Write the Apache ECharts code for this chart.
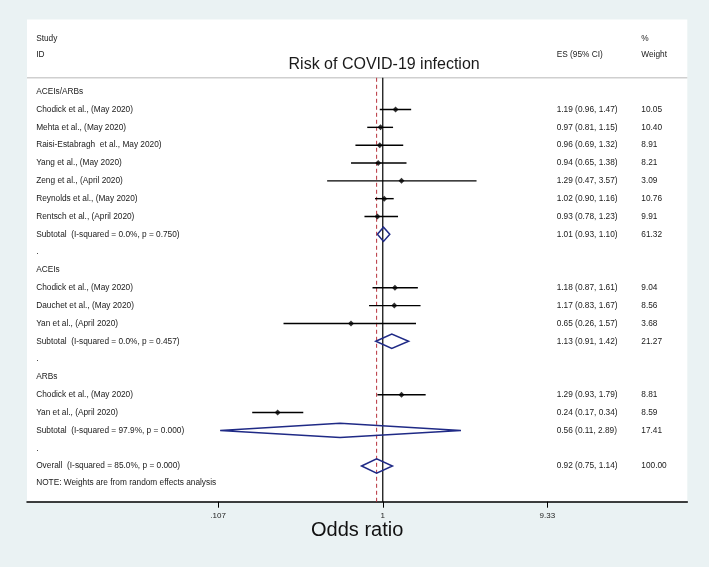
<!DOCTYPE html>
<html>
<head>
<meta charset="utf-8">
<script src="https://cdn.jsdelivr.net/npm/echarts@6/dist/echarts.min.js"></script>
<style>
html,body{margin:0;padding:0;background:#eaf2f3;}
#chart{width:709px;height:567px;}
</style>
</head>
<body>
<div id="chart"></div>
<script>
// ---------------- data ----------------
const rowLabels = [
  'ACEIs/ARBs',
  'Chodick et al., (May 2020)',
  'Mehta et al., (May 2020)',
  'Raisi-Estabragh  et al., May 2020)',
  'Yang et al., (May 2020)',
  'Zeng et al., (April 2020)',
  'Reynolds et al., (May 2020)',
  'Rentsch et al., (April 2020)',
  'Subtotal  (I-squared = 0.0%, p = 0.750)',
  '.',
  'ACEIs',
  'Chodick et al., (May 2020)',
  'Dauchet et al., (May 2020)',
  'Yan et al., (April 2020)',
  'Subtotal  (I-squared = 0.0%, p = 0.457)',
  '.',
  'ARBs',
  'Chodick et al., (May 2020)',
  'Yan et al., (April 2020)',
  'Subtotal  (I-squared = 97.9%, p = 0.000)',
  '.',
  'Overall  (I-squared = 85.0%, p = 0.000)'
];
const rowKinds = [
  'group','study','study','study','study','study','study','study','pooled','blank',
  'group','study','study','study','pooled','blank',
  'group','study','study','pooled','blank',
  'overall'
];
const esValues = [null,1.19,0.97,0.96,0.94,1.29,1.02,0.93,1.01,null,
  null,1.18,1.17,0.65,1.13,null,
  null,1.29,0.24,0.56,null,
  0.92];
const ciLower = [null,0.96,0.81,0.69,0.65,0.47,0.90,0.78,0.93,null,
  null,0.87,0.83,0.26,0.91,null,
  null,0.93,0.17,0.11,null,
  0.75];
const ciUpper = [null,1.47,1.15,1.32,1.38,3.57,1.16,1.23,1.10,null,
  null,1.61,1.67,1.57,1.42,null,
  null,1.79,0.34,2.89,null,
  1.14];
const weights = [null,10.05,10.40,8.91,8.21,3.09,10.76,9.91,61.32,null,
  null,9.04,8.56,3.68,21.27,null,
  null,8.81,8.59,17.41,null,
  100.00];
const tickValues = [0.107, 1, 9.33];
const tickLabels = ['.107', '1', '9.33'];
const headerStudy = ['Study', 'ID'];
const headerES = 'ES (95% CI)';
const headerWeight = ['%', 'Weight'];
const titleText = 'Risk of COVID-19 infection';
const axisTitle = 'Odds ratio';
const noteText = 'NOTE: Weights are from random effects analysis';

// ---------------- layout ----------------
const lg = v => Math.log10(v);
const X_MIN = -2.097, X_MAX = 1.795;       // log10 odds-ratio extent of the panel
const Y_MIN = -4.05, Y_MAX = 23.0;         // row extent
const COL_LABEL = -2.043, COL_ES = 1.025, COL_W = 1.524, COL_TITLE = 0.008;
const ROW_H1 = -3.0, ROW_H2 = -2.05, ROW_TITLE = -1.5, ROW_SEP = -0.78, ROW_NOTE = 21.94;
const FONT = "'Liberation Sans', Arial, Helvetica, sans-serif";
const SMALL = 8.3;
const TXT = '#1a1a1a';
const NAVY = '#1f2a86';

const fmt = v => v.toFixed(2);

// text items
const texts = [];
texts.push({x: COL_LABEL, y: ROW_H1, t: headerStudy[0]});
texts.push({x: COL_LABEL, y: ROW_H2, t: headerStudy[1]});
texts.push({x: COL_ES, y: ROW_H2, t: headerES});
texts.push({x: COL_W, y: ROW_H1, t: headerWeight[0]});
texts.push({x: COL_W, y: ROW_H2, t: headerWeight[1]});
texts.push({x: COL_TITLE, y: ROW_TITLE, t: titleText, size: 16, align: 'center'});
rowLabels.forEach((lab, i) => {
  texts.push({x: COL_LABEL, y: i, t: lab});
  if (esValues[i] != null) {
    texts.push({x: COL_ES, y: i, t: fmt(esValues[i]) + ' (' + fmt(ciLower[i]) + ', ' + fmt(ciUpper[i]) + ')'});
    texts.push({x: COL_W, y: i, t: fmt(weights[i])});
  }
});
texts.push({x: COL_LABEL, y: ROW_NOTE, t: noteText});

const studyRows = [], pooledRows = [];
rowKinds.forEach((k, i) => {
  if (k === 'study') studyRows.push([lg(ciLower[i]), i, lg(ciUpper[i]), lg(esValues[i])]);
  if (k === 'pooled' || k === 'overall') pooledRows.push([lg(ciLower[i]), i, lg(ciUpper[i]), lg(esValues[i])]);
});
const overallIdx = rowKinds.indexOf('overall');
const overallLog = lg(esValues[overallIdx]);

const chart = echarts.init(document.getElementById('chart'), null, {renderer: 'canvas'});
chart.setOption({
  backgroundColor: '#eaf2f3',
  animation: false,
  textStyle: {fontFamily: FONT},
  grid: {left: 27, right: 21.7, top: 19.5, bottom: 65.3, show: true, backgroundColor: '#ffffff', borderWidth: 0, outerBoundsMode: 'none'},
  xAxis: {
    type: 'value', min: X_MIN, max: X_MAX, position: 'bottom',
    axisLine: {show: true, onZero: false, lineStyle: {color: '#000', width: 1.5}},
    axisTick: {show: true, length: 6, customValues: tickValues.map(lg), lineStyle: {color: '#000', width: 1}},
    axisLabel: {
      customValues: tickValues.map(lg), fontSize: 8, color: '#222', margin: 10, fontFamily: FONT,
      formatter: v => { const i = tickValues.findIndex(t => Math.abs(lg(t) - v) < 1e-6); return i >= 0 ? tickLabels[i] : ''; }
    },
    splitLine: {show: false},
    name: axisTitle, nameLocation: 'middle', nameGap: 19, nameMoveOverlap: false,
    nameTextStyle: {fontSize: 20, color: '#111', fontFamily: FONT}
  },
  yAxis: {type: 'value', inverse: true, min: Y_MIN, max: Y_MAX, show: false},
  series: [
    { // separator under header
      type: 'line', data: [[X_MIN, ROW_SEP], [X_MAX, ROW_SEP]], showSymbol: false, symbol: 'none', silent: true,
      lineStyle: {color: '#cfcfcf', width: 1.5}, z: 1
    },
    { // null line at OR = 1
      type: 'line', data: [[lg(1), ROW_SEP], [lg(1), Y_MAX]], symbol: 'none', silent: true,
      lineStyle: {color: '#000', width: 1.2}, z: 2
    },
    { // overall estimate line
      type: 'line', data: [[overallLog, ROW_SEP], [overallLog, Y_MAX]], symbol: 'none', silent: true,
      lineStyle: {color: '#b8323c', width: 1, type: [4, 3]}, z: 3
    },
    { // confidence intervals
      type: 'custom', data: studyRows, encode: {x: [0, 2], y: 1}, silent: true, z: 4,
      renderItem: (params, api) => {
        const a = api.coord([api.value(0), api.value(1)]);
        const b = api.coord([api.value(2), api.value(1)]);
        return {type: 'line', shape: {x1: a[0], y1: a[1], x2: b[0], y2: b[1]}, style: {stroke: '#000', lineWidth: 1.4}};
      }
    },
    { // point estimates
      type: 'scatter', data: studyRows.map(r => [r[3], r[1]]), symbol: 'diamond', symbolSize: 6,
      itemStyle: {color: '#000'}, silent: true, z: 5
    },
    { // pooled diamonds
      type: 'custom', data: pooledRows, encode: {x: [0, 2, 3], y: 1}, silent: true, z: 6,
      renderItem: (params, api) => {
        const row = api.value(1);
        const l = api.coord([api.value(0), row]);
        const r = api.coord([api.value(2), row]);
        const t = api.coord([api.value(3), row - 0.4]);
        const b = api.coord([api.value(3), row + 0.4]);
        return {type: 'polygon', shape: {points: [l, t, r, b]}, style: {fill: 'none', stroke: NAVY, lineWidth: 1.5}};
      }
    },
    { // text columns
      type: 'custom', data: texts.map(o => [o.x, o.y]), silent: true, z: 7, clip: false,
      renderItem: (params, api) => {
        const o = texts[params.dataIndex];
        const p = api.coord([api.value(0), api.value(1)]);
        return {type: 'text', x: p[0], y: p[1], style: {
          text: o.t, fontSize: o.size || SMALL, fontFamily: FONT, fill: TXT,
          align: o.align || 'left', verticalAlign: 'middle'
        }};
      }
    }
  ]
});
</script>
</body>
</html>
